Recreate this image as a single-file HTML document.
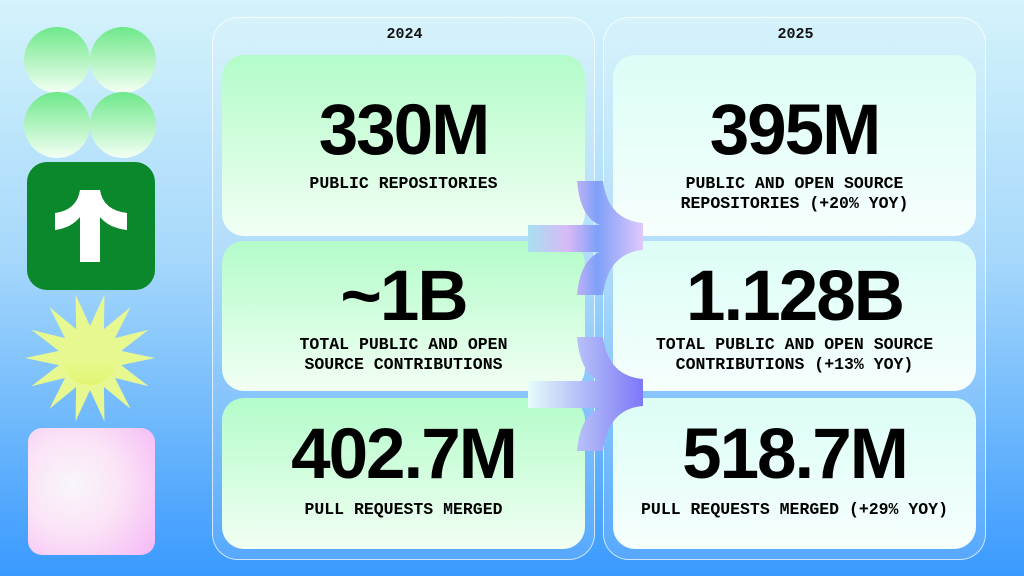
<!DOCTYPE html>
<html><head><style>
*{margin:0;padding:0;box-sizing:border-box}
body{width:1024px;height:576px;overflow:hidden;position:relative;background:linear-gradient(180deg,#d4f3fb 0%,#a6d8fb 45%,#3a9afe 100%);font-family:"Liberation Sans",sans-serif}
.c{position:absolute;border-radius:50%;width:66px;height:66px;background:linear-gradient(180deg,#6ee88a,#f4fff4)}
.panel{position:absolute;top:17px;height:543px;width:383px;border:1.5px solid rgba(255,255,255,.7);border-radius:26px;background:rgba(255,255,255,.12)}
.yr{position:absolute;top:8px;width:383px;text-align:center;font:bold 15px "Liberation Mono",monospace;color:#111}
.card{position:absolute;width:363px;border-radius:22px;text-align:center;color:#000}
.l .card{background:linear-gradient(180deg,#b3fcc9,#f2fff4)}
.r .card{background:linear-gradient(180deg,#dcfdf6,#f6fffd)}
.num{font-family:"Liberation Sans Narrow","Liberation Sans",sans-serif;font-weight:bold;font-size:71px;letter-spacing:-2px;line-height:72px}
.lab{font:bold 16.5px/20px "Liberation Mono",monospace;letter-spacing:0}
</style></head><body>
<div class="c" style="left:24px;top:27px"></div><div class="c" style="left:90px;top:27px"></div>
<div class="c" style="left:24px;top:92px"></div><div class="c" style="left:90px;top:92px"></div>
<div style="position:absolute;left:27px;top:162px;width:128px;height:128px;border-radius:20px;background:#0b872c"></div>
<svg style="position:absolute;left:27px;top:162px" width="128" height="128"><path d="M53 28 H73 Q76 48 100 51 V68 Q82 66 73 55 V100 H53 V55 Q44 66 28 68 V51 Q50 48 53 28Z" fill="#fff"/></svg>
<svg style="position:absolute;left:25px;top:293px" width="130" height="130"><defs><linearGradient id="s" gradientUnits="userSpaceOnUse" x1="0" y1="0" x2="0" y2="130"><stop offset="0" stop-color="#e8f890"/><stop offset=".6" stop-color="#d6f23c"/><stop offset="1" stop-color="#dcf450"/></linearGradient>
<polygon id="sp" points="0,-65 -8,-27 8,-27"/></defs>
<g transform="translate(65,65)" fill="url(#s)"><circle r="31"/>
<use href="#sp" transform="rotate(90)"/><use href="#sp" transform="rotate(115.71)"/><use href="#sp" transform="rotate(141.43)"/><use href="#sp" transform="rotate(167.14)"/><use href="#sp" transform="rotate(192.86)"/><use href="#sp" transform="rotate(218.57)"/><use href="#sp" transform="rotate(244.29)"/><use href="#sp" transform="rotate(270)"/><use href="#sp" transform="rotate(295.71)"/><use href="#sp" transform="rotate(321.43)"/><use href="#sp" transform="rotate(347.14)"/><use href="#sp" transform="rotate(12.86)"/><use href="#sp" transform="rotate(38.57)"/><use href="#sp" transform="rotate(64.29)"/></g></svg>
<div style="position:absolute;left:28px;top:428px;width:127px;height:127px;border-radius:14px;background:radial-gradient(circle at 35% 45%,#f8f6fb 0%,#fbe3f6 45%,#f4b8f6 100%)"></div>
<div class="panel l" style="left:212px"><div class="yr" style="left:0">2024</div>
<div class="card" style="left:9px;top:37px;height:181px"><div class="num" style="margin-top:40px">330M</div><div class="lab" style="margin-top:7px">PUBLIC REPOSITORIES</div></div>
<div class="card" style="left:9px;top:223px;height:150px"><div class="num" style="margin-top:20px">~1B</div><div class="lab" style="margin-top:2px">TOTAL PUBLIC AND OPEN<br>SOURCE CONTRIBUTIONS</div></div>
<div class="card" style="left:9px;top:380px;height:151px"><div class="num" style="margin-top:21px">402.7M</div><div class="lab" style="margin-top:9px">PULL REQUESTS MERGED</div></div>
</div>
<div class="panel r" style="left:603px"><div class="yr" style="left:0">2025</div>
<div class="card" style="left:9px;top:37px;height:181px"><div class="num" style="margin-top:40px">395M</div><div class="lab" style="margin-top:7px">PUBLIC AND OPEN SOURCE<br>REPOSITORIES (+20% YOY)</div></div>
<div class="card" style="left:9px;top:223px;height:150px"><div class="num" style="margin-top:20px">1.128B</div><div class="lab" style="margin-top:2px">TOTAL PUBLIC AND OPEN SOURCE<br>CONTRIBUTIONS (+13% YOY)</div></div>
<div class="card" style="left:9px;top:380px;height:151px"><div class="num" style="margin-top:21px">518.7M</div><div class="lab" style="margin-top:9px">PULL REQUESTS MERGED (+29% YOY)</div></div>
</div>
<svg style="position:absolute;left:528px;top:180px" width="118" height="118"><defs><linearGradient id="a1" x1="0" y1="0" x2="1" y2="0"><stop offset="0" stop-color="#a8e0f0"/><stop offset=".35" stop-color="#d8b8f6"/><stop offset=".6" stop-color="#7fa0f8"/><stop offset="1" stop-color="#e0c8fc"/></linearGradient></defs>
<path fill="url(#a1)" d="M49 1 H75 Q80 40 115 43 V70 Q80 73 75 115 H49 Q52 80 72 72 H0 V45 H72 Q52 37 49 1Z"/></svg>
<svg style="position:absolute;left:528px;top:336px" width="118" height="118"><defs><linearGradient id="a2" x1="0" y1="0" x2="1" y2="0"><stop offset="0" stop-color="#e6fcfb"/><stop offset=".5" stop-color="#b0b8f8"/><stop offset="1" stop-color="#7d78f8"/></linearGradient></defs>
<path fill="url(#a2)" d="M49 1 H75 Q80 40 115 43 V70 Q80 73 75 115 H49 Q52 80 72 72 H0 V45 H72 Q52 37 49 1Z"/></svg>
</body></html>
